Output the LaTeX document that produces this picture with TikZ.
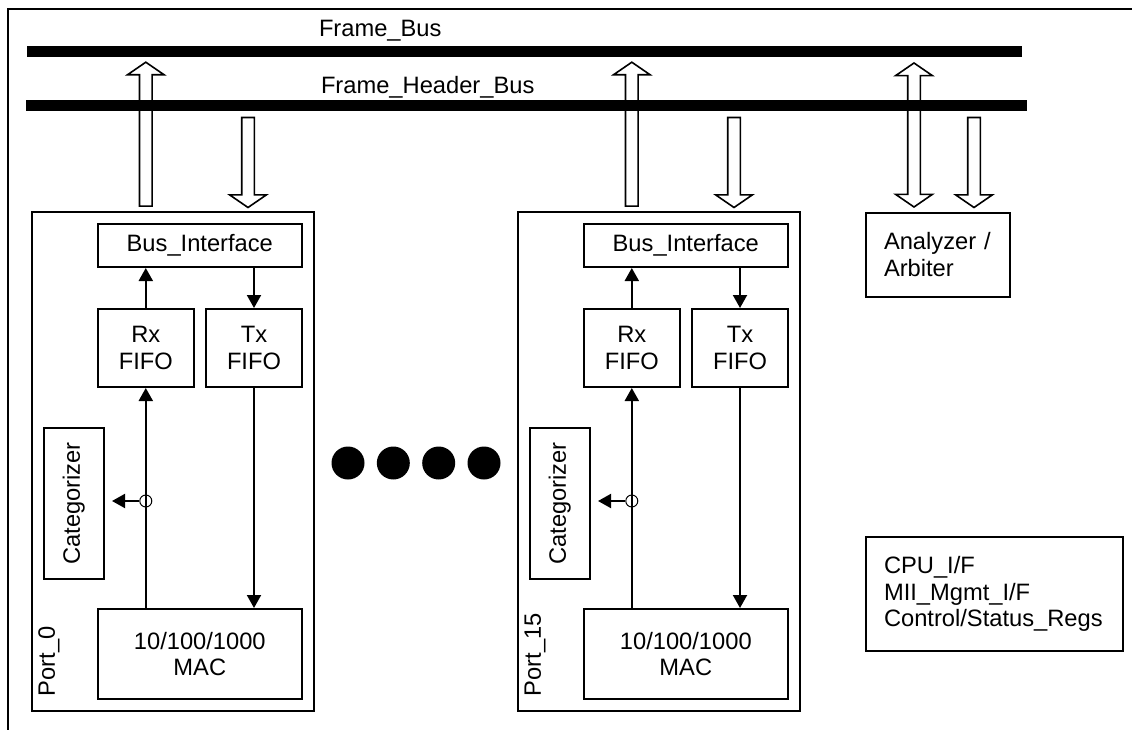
\documentclass[tikz,border=0pt]{standalone}
\usepackage{fontspec}
\setmainfont{Liberation Sans}
\usetikzlibrary{shapes.arrows,arrows.meta}

\begin{document}
\begin{tikzpicture}
  [x=1pt,y=-1pt,line width=2pt,
   font=\fontsize{23.7}{26.5}\selectfont,
   >={Triangle[width=14pt,length=13pt]},
   boxN/.style={draw,inner sep=0,align=center},
   busN/.style={fill,inner sep=0,minimum height=10.5},
   txtN/.style={inner sep=0},
   tapN/.style={draw,circle,line width=1pt,minimum size=12,inner sep=0},
   dotN/.style={fill,circle,minimum size=33,inner sep=0},
   arrN/.style={draw,line width=1.6pt,single arrow,inner sep=5.5,minimum width=0,
     single arrow head extend=12,single arrow tip angle=111,anchor=tail},
   upN/.style={arrN,rotate=90,minimum height=144},
   downN/.style={arrN,rotate=-90,minimum height=90},
   bothN/.style={draw,line width=1.6pt,double arrow,inner sep=5.5,minimum width=0,
     double arrow head extend=12,double arrow tip angle=111,rotate=90,minimum height=144},
   noteN/.style={boxN,align=left,inner xsep=18},
  ]

 \useasboundingbox (0,0) rectangle (1132,730);
 \draw (1132,9) -- (8,9) -- (8,730);

 % buses
 \node[busN,minimum width=994.7] (fb)  at (524.2,51.3)  {};
 \node[busN,minimum width=1001]  (fhb) at (526.5,105.5) {};
 \node[txtN,anchor=base west] (fbl)  at (318,37) {Frame\_Bus};
 \node[txtN,anchor=base west] (fhbl) at (320,94) {Frame\_Header\_Bus};

 % Port_0
 \node[boxN,minimum width=282,minimum height=498.7] (p0) at (173,461.4) {};
 \node[boxN,minimum width=204.5,minimum height=43] (bi0)  at (199.8,245.5) {Bus\_Interface};
 \node[boxN,minimum width=96.5,minimum height=78]  (rx0)  at (145.8,348)   {Rx\\FIFO};
 \node[boxN,minimum width=96,minimum height=78]    (tx0)  at (254,348)     {Tx\\FIFO};
 \node[boxN,rotate=90,minimum width=151,minimum height=60.4] (ca0) at (73.8,503.5) {Categorizer};
 \node[boxN,minimum width=204.5,minimum height=90] (mac0) at (199.8,654)   {10/100/1000\\MAC};
 \node[txtN,rotate=90,anchor=west] (pl0) at (49,697) {Port\_0};
 \node[upN]   (up0) at (145.8,207)   {};
 \node[downN] (dn0) at (248,116.7) {};

 \draw[->] (rx0) -- (rx0 |- bi0.south);
 \draw[->] (bi0.south -| tx0) -- (tx0);
 \draw[->] (mac0.north -| rx0) -- (rx0);
 \draw[->] (tx0) -- (tx0 |- mac0.north);
 \node[tapN] (tp0) at (145.8,501) {};
 \draw[->,shorten >=7pt] (tp0) -- (tp0 -| ca0.south);

 % Port_15
 \node[boxN,minimum width=282,minimum height=498.7] (p15) at (659,461.4) {};
 \node[boxN,minimum width=204.5,minimum height=43] (bi15)  at (685.8,245.5) {Bus\_Interface};
 \node[boxN,minimum width=96.5,minimum height=78]  (rx15)  at (631.8,348)   {Rx\\FIFO};
 \node[boxN,minimum width=96,minimum height=78]    (tx15)  at (740,348)     {Tx\\FIFO};
 \node[boxN,rotate=90,minimum width=151,minimum height=60.4] (ca15) at (559.8,503.5) {Categorizer};
 \node[boxN,minimum width=204.5,minimum height=90] (mac15) at (685.8,654)   {10/100/1000\\MAC};
 \node[txtN,rotate=90,anchor=west] (pl15) at (535,697) {Port\_15};
 \node[upN]   (up15) at (631.8,207) {};
 \node[downN] (dn15) at (734,116.7) {};

 \draw[->] (rx15) -- (rx15 |- bi15.south);
 \draw[->] (bi15.south -| tx15) -- (tx15);
 \draw[->] (mac15.north -| rx15) -- (rx15);
 \draw[->] (tx15) -- (tx15 |- mac15.north);
 \node[tapN] (tp15) at (631.8,501) {};
 \draw[->,shorten >=7pt] (tp15) -- (tp15 -| ca15.south);

 % the other ports
 \node[dotN] (d1) at (348,463)   {};
 \node[dotN] (d2) at (393.3,463) {};
 \node[dotN] (d3) at (438.7,463) {};
 \node[dotN] (d4) at (484,463)   {};

 % analyzer and cpu
 \node[bothN] (anb) at (914,135)   {};
 \node[downN] (and) at (974,116.7) {};
 \node[noteN,text width=108,minimum height=84]  (az)  at (938,254.7) {Analyzer /\\Arbiter};
 \node[noteN,text width=221,minimum height=114] (cpu) at (994.5,594) {CPU\_I/F\\MII\_Mgmt\_I/F\\Control/Status\_Regs};

\end{tikzpicture}
\end{document}
